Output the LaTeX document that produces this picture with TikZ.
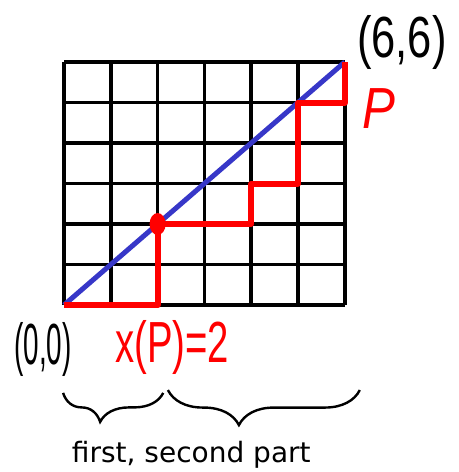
\documentclass[tikz,border=0pt]{standalone}
\usepackage{graphicx}
\usepackage{fontspec}
\setmainfont{DejaVu Sans}
\newfontfamily\handfont{Liberation Sans}
\usetikzlibrary{decorations.pathreplacing, positioning}
\definecolor{pathred}{RGB}{255,0,0}
\definecolor{diagblue}{RGB}{55,55,200}

\begin{document}
\begin{tikzpicture}[x=46.8bp,y=40.5bp,
    hand/.style={font=\handfont\fontsize{58bp}{60bp}\selectfont, inner sep=0pt},
    bracebig/.style={decorate, decoration={brace, mirror, amplitude=#1, aspect=0.37}, line width=2.4bp}]
\useasboundingbox (-1.368,-4.123) rectangle (8.419,7.531);
% grid
\foreach \i in {0,...,6}{
    \draw[line width=3.5bp] (\i,0) -- (\i,6);
    \draw[line width=3.5bp] (0,\i) -- (6,\i);
}
% diagonal
\draw[diagblue, line width=5bp] (0,0) coordinate (orig) -- (6,6) coordinate (top);
% lattice path
\draw[pathred, line width=6bp, line join=round]
    (orig) -- (2,0) -- (2,2) coordinate (touch) -- (4,2) -- (4,3) -- (5,3)
    -- (5,5) -- (6,5) coordinate (pend) -- (top);
\fill[pathred] (touch) ellipse (8bp and 11bp);
% labels
\node[hand] (lbltop) at (7.22,6.49) {\scalebox{0.75}[1]{(6,6)}};
\node[hand, pathred] (lblp) at (6.73,4.84) {\scalebox{0.85}[1]{\itshape P}};
\node[hand] (lblorig) at (-0.45,-1.11) {\scalebox{0.48}[1]{(0,0)}};
\node[hand, pathred] (lblx) at (2.31,-1.06) {\scalebox{0.66}[1]{x(P)=2}};
% braces
\draw[bracebig=29bp] (-0.02,-2.17) -- (2.12,-2.17);
\draw[bracebig=35bp] (2.22,-2.10) -- (6.32,-2.10);
\node[anchor=base, font=\fontsize{28bp}{33bp}\selectfont, inner sep=0pt] (parts) at (2.72,-3.90) {first, second part};
\end{tikzpicture}
\end{document}
